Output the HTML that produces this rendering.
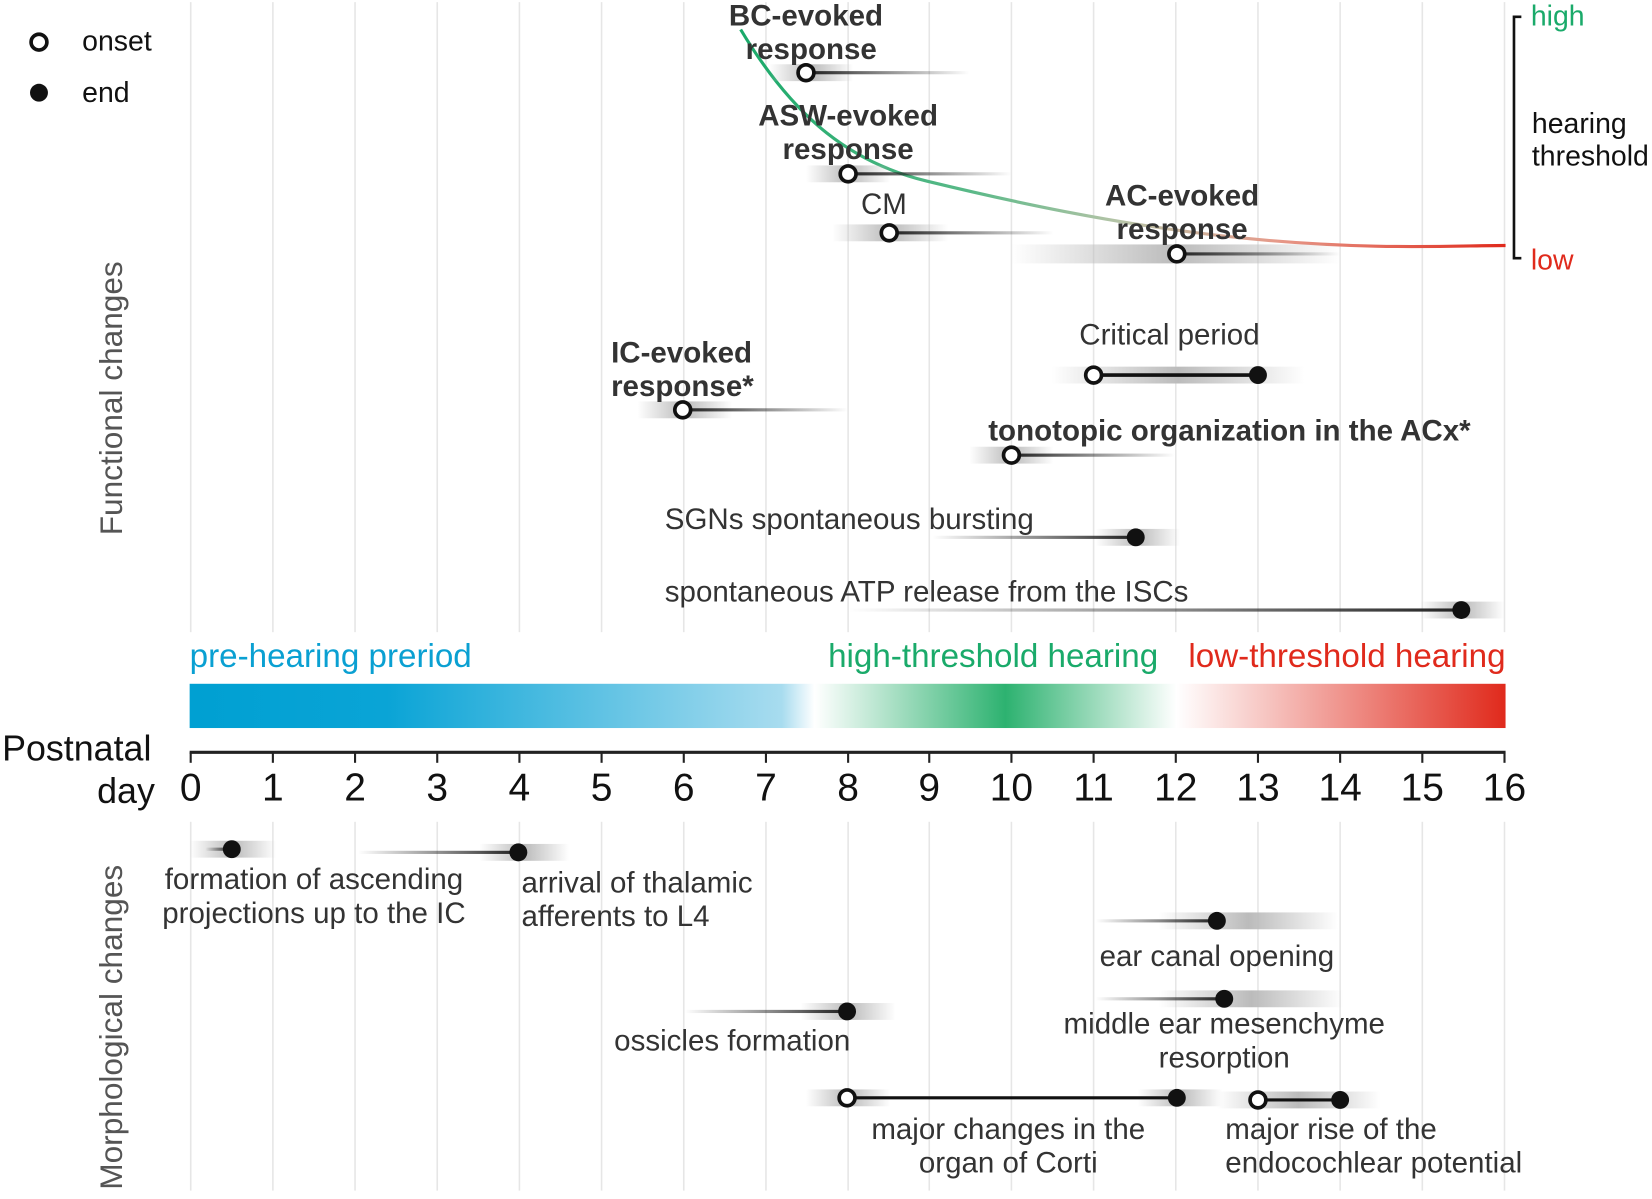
<!DOCTYPE html>
<html><head><meta charset="utf-8"><style>
html,body{margin:0;padding:0;background:#fff}
svg{display:block}
text{font-family:"Liberation Sans",Arial,sans-serif}
</style></head><body>
<svg width="1652" height="1199" viewBox="0 0 1568 1138" preserveAspectRatio="none" xmlns="http://www.w3.org/2000/svg">
<defs>
<linearGradient id="bar" x1="0" x2="1" y1="0" y2="0">
<stop offset="0" stop-color="#00a0d2"/><stop offset="0.15" stop-color="#0aa4d6"/>
<stop offset="0.45" stop-color="#a8dcef"/><stop offset="0.475" stop-color="#ffffff"/>
<stop offset="0.62" stop-color="#2db270"/><stop offset="0.75" stop-color="#ffffff"/>
<stop offset="1" stop-color="#e02a1c"/></linearGradient>
<linearGradient id="curve" gradientUnits="userSpaceOnUse" x1="703" y1="0" x2="1429" y2="0">
<stop offset="0" stop-color="#1aaa6a"/><stop offset="0.3" stop-color="#5ab988"/>
<stop offset="0.5" stop-color="#b8c4a8"/><stop offset="0.7" stop-color="#e69a8a"/>
<stop offset="1" stop-color="#e02a1c"/></linearGradient>
<linearGradient id="fin" x1="0" x2="1"><stop offset="0" stop-color="#222" stop-opacity="0"/><stop offset="1" stop-color="#222"/></linearGradient>
<linearGradient id="fout" x1="0" x2="1"><stop offset="0" stop-color="#222"/><stop offset="1" stop-color="#222" stop-opacity="0"/></linearGradient>
<linearGradient id="band" x1="0" x2="1"><stop offset="0" stop-color="#bbb" stop-opacity="0"/><stop offset="0.5" stop-color="#bbb"/><stop offset="1" stop-color="#bbb" stop-opacity="0"/></linearGradient>
</defs>
<g stroke="#e6e6e6" stroke-width="1.5">
<line x1="181" y1="2" x2="181" y2="1130"/><line x1="259" y1="2" x2="259" y2="1130"/><line x1="337" y1="2" x2="337" y2="1130"/><line x1="415" y1="2" x2="415" y2="1130"/><line x1="493" y1="2" x2="493" y2="1130"/><line x1="571" y1="2" x2="571" y2="1130"/><line x1="649" y1="2" x2="649" y2="1130"/><line x1="727" y1="2" x2="727" y2="1130"/><line x1="805" y1="2" x2="805" y2="1130"/><line x1="882" y1="2" x2="882" y2="1130"/><line x1="960" y1="2" x2="960" y2="1130"/><line x1="1038" y1="2" x2="1038" y2="1130"/><line x1="1116" y1="2" x2="1116" y2="1130"/><line x1="1194" y1="2" x2="1194" y2="1130"/><line x1="1272" y1="2" x2="1272" y2="1130"/><line x1="1350" y1="2" x2="1350" y2="1130"/><line x1="1428" y1="2" x2="1428" y2="1130"/>
</g>
<rect x="0" y="600" width="1568" height="180" fill="#fff"/>
<circle cx="37" cy="40" r="7.5" fill="#fff" stroke="#111" stroke-width="3.5"/>
<circle cx="37" cy="88" r="8.5" fill="#111"/>
<text x="78" y="48" font-size="27" fill="#111">onset</text>
<text x="78" y="97" font-size="27" fill="#111">end</text>
<text transform="translate(116,378) rotate(-90)" text-anchor="middle" font-size="30" fill="#555">Functional changes</text>
<text transform="translate(116,975) rotate(-90)" text-anchor="middle" font-size="30" fill="#555">Morphological changes</text>
<path d="M703,28 C755,115 810,155 880,172 S1060,214 1180,226 S1380,233 1429,233" fill="none" stroke="url(#curve)" stroke-width="3"/>
<path d="M1444,16 H1437 V245 H1444" fill="none" stroke="#111" stroke-width="2.5"/>
<text x="1453" y="24" font-size="27" fill="#1aaa6a">high</text>
<text x="1453" y="256" font-size="27" fill="#e02a1c">low</text>
<text x="1454" y="126" font-size="27" fill="#111">hearing</text>
<text x="1454" y="157" font-size="27" fill="#111">threshold</text>
<g font-size="28" fill="#333">
<rect x="730" y="61" width="80" height="16" fill="url(#band)"/><rect x="765" y="67.5" width="155" height="3" fill="url(#fout)"/>
<circle cx="765" cy="69" r="7.5" fill="#fff" stroke="#111" stroke-width="3.5"/>
<text x="765" y="24" text-anchor="middle" font-weight="bold">BC-evoked</text><text x="770" y="56" text-anchor="middle" font-weight="bold">response</text>
<rect x="765" y="157" width="80" height="16" fill="url(#band)"/><rect x="805" y="163.5" width="155" height="3" fill="url(#fout)"/>
<circle cx="805" cy="165" r="7.5" fill="#fff" stroke="#111" stroke-width="3.5"/>
<text x="805" y="119" text-anchor="middle" font-weight="bold">ASW-evoked</text><text x="805" y="151" text-anchor="middle" font-weight="bold">response</text>
<rect x="790" y="213" width="110" height="16" fill="url(#band)"/><rect x="844" y="219.5" width="156" height="3" fill="url(#fout)"/>
<circle cx="844" cy="221" r="7.5" fill="#fff" stroke="#111" stroke-width="3.5"/>
<text x="839" y="203" text-anchor="middle">CM</text>
<rect x="960" y="232" width="312" height="18" fill="url(#band)"/><rect x="1117" y="239.5" width="155" height="3" fill="url(#fout)"/>
<circle cx="1117" cy="241" r="7.5" fill="#fff" stroke="#111" stroke-width="3.5"/>
<text x="1122" y="195" text-anchor="middle" font-weight="bold">AC-evoked</text><text x="1122" y="227" text-anchor="middle" font-weight="bold">response</text>
<rect x="998" y="348" width="240" height="16" fill="url(#band)"/><line x1="1038" y1="356" x2="1194" y2="356" stroke="#111" stroke-width="3.5"/>
<circle cx="1038" cy="356" r="7.5" fill="#fff" stroke="#111" stroke-width="3.5"/><circle cx="1194" cy="356" r="8.5" fill="#111"/>
<text x="1110" y="327" text-anchor="middle">Critical period</text>
<rect x="605" y="381" width="90" height="16" fill="url(#band)"/><rect x="648" y="387.5" width="157" height="3" fill="url(#fout)"/>
<circle cx="648" cy="389" r="7.5" fill="#fff" stroke="#111" stroke-width="3.5"/>
<text x="580" y="344" font-weight="bold">IC-evoked</text><text x="580" y="376" font-weight="bold">response*</text>
<rect x="920" y="424" width="80" height="16" fill="url(#band)"/><rect x="960" y="430.5" width="155" height="3" fill="url(#fout)"/>
<circle cx="960" cy="432" r="7.5" fill="#fff" stroke="#111" stroke-width="3.5"/>
<text x="938" y="418" font-weight="bold">tonotopic organization in the ACx*</text>
<rect x="1040" y="502" width="80" height="16" fill="url(#band)"/><rect x="885" y="508.5" width="193" height="3" fill="url(#fin)"/>
<circle cx="1078" cy="510" r="8.5" fill="#111"/>
<text x="631" y="502">SGNs spontaneous bursting</text>
<rect x="1348" y="571" width="80" height="16" fill="url(#band)"/><rect x="805" y="577.5" width="582" height="3" fill="url(#fin)"/>
<circle cx="1387" cy="579" r="8.5" fill="#111"/>
<text x="631" y="571">spontaneous ATP release from the ISCs</text>
</g>
<text x="180" y="633" font-size="31.5" fill="#0aa0d2">pre-hearing preriod</text>
<text x="786" y="633" font-size="31.5" fill="#1aaa6a">high-threshold hearing</text>
<text x="1429" y="633" font-size="31.5" fill="#e02a1c" text-anchor="end">low-threshold hearing</text>
<rect x="180" y="649" width="1249" height="42" fill="url(#bar)"/>
<line x1="180" y1="714" x2="1429" y2="714" stroke="#222" stroke-width="3"/>
<g stroke="#222" stroke-width="2">
<line x1="181" y1="714" x2="181" y2="724"/><line x1="259" y1="714" x2="259" y2="724"/><line x1="337" y1="714" x2="337" y2="724"/><line x1="415" y1="714" x2="415" y2="724"/><line x1="493" y1="714" x2="493" y2="724"/><line x1="571" y1="714" x2="571" y2="724"/><line x1="649" y1="714" x2="649" y2="724"/><line x1="727" y1="714" x2="727" y2="724"/><line x1="805" y1="714" x2="805" y2="724"/><line x1="882" y1="714" x2="882" y2="724"/><line x1="960" y1="714" x2="960" y2="724"/><line x1="1038" y1="714" x2="1038" y2="724"/><line x1="1116" y1="714" x2="1116" y2="724"/><line x1="1194" y1="714" x2="1194" y2="724"/><line x1="1272" y1="714" x2="1272" y2="724"/><line x1="1350" y1="714" x2="1350" y2="724"/><line x1="1428" y1="714" x2="1428" y2="724"/>
</g>
<g font-size="37" fill="#111" text-anchor="middle">
<text x="181" y="760">0</text><text x="259" y="760">1</text><text x="337" y="760">2</text><text x="415" y="760">3</text><text x="493" y="760">4</text><text x="571" y="760">5</text><text x="649" y="760">6</text><text x="727" y="760">7</text><text x="805" y="760">8</text><text x="882" y="760">9</text><text x="960" y="760">10</text><text x="1038" y="760">11</text><text x="1116" y="760">12</text><text x="1194" y="760">13</text><text x="1272" y="760">14</text><text x="1350" y="760">15</text><text x="1428" y="760">16</text>
</g>
<text x="2" y="722" font-size="34" fill="#111">Postnatal</text>
<text x="147" y="762" font-size="34" fill="#111" text-anchor="end">day</text>
<g font-size="28" fill="#333">
<rect x="180" y="798" width="82" height="16" fill="url(#band)"/><rect x="195" y="804.5" width="25" height="3" fill="url(#fin)"/>
<circle cx="220" cy="806" r="8.5" fill="#111"/>
<text x="298" y="844" text-anchor="middle">formation of ascending</text><text x="298" y="876" text-anchor="middle">projections up to the IC</text>
<rect x="455" y="801" width="85" height="16" fill="url(#band)"/><rect x="340" y="807.5" width="152" height="3" fill="url(#fin)"/>
<circle cx="492" cy="809" r="8.5" fill="#111"/>
<text x="495" y="847">arrival of thalamic</text><text x="495" y="879">afferents to L4</text>
<rect x="1100" y="866" width="170" height="16" fill="url(#band)"/><rect x="1040" y="872.5" width="115" height="3" fill="url(#fin)"/>
<circle cx="1155" cy="874" r="8.5" fill="#111"/>
<text x="1155" y="917" text-anchor="middle">ear canal opening</text>
<rect x="1100" y="940" width="175" height="16" fill="url(#band)"/><rect x="1040" y="946.5" width="122" height="3" fill="url(#fin)"/>
<circle cx="1162" cy="948" r="8.5" fill="#111"/>
<text x="1162" y="981" text-anchor="middle">middle ear mesenchyme</text><text x="1162" y="1013" text-anchor="middle">resorption</text>
<rect x="760" y="952" width="90" height="16" fill="url(#band)"/><rect x="650" y="958.5" width="154" height="3" fill="url(#fin)"/>
<circle cx="804" cy="960" r="8.5" fill="#111"/>
<text x="695" y="997" text-anchor="middle">ossicles formation</text>
<rect x="765" y="1034" width="80" height="16" fill="url(#band)"/><rect x="1080" y="1034" width="80" height="16" fill="url(#band)"/>
<line x1="804" y1="1042" x2="1117" y2="1042" stroke="#111" stroke-width="3"/>
<circle cx="804" cy="1042" r="7.5" fill="#fff" stroke="#111" stroke-width="3.5"/><circle cx="1117" cy="1042" r="8.5" fill="#111"/>
<text x="957" y="1081" text-anchor="middle">major changes in the</text><text x="957" y="1113" text-anchor="middle">organ of Corti</text>
<rect x="1155" y="1036" width="155" height="16" fill="url(#band)"/>
<line x1="1194" y1="1044" x2="1272" y2="1044" stroke="#111" stroke-width="3"/>
<circle cx="1194" cy="1044" r="7.5" fill="#fff" stroke="#111" stroke-width="3.5"/><circle cx="1272" cy="1044" r="8.5" fill="#111"/>
<text x="1163" y="1081">major rise of the</text><text x="1163" y="1113">endocochlear potential</text>
</g>
</svg>
</body></html>
